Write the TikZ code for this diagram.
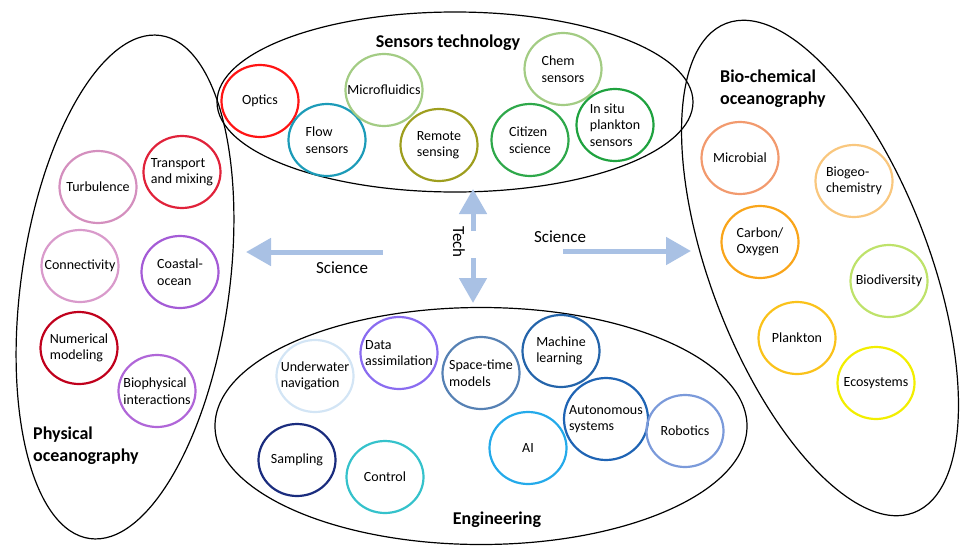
\documentclass[tikz,border=0pt]{standalone}
\usepackage{fontspec}
\setmainfont{Carlito}
\usetikzlibrary{shapes.geometric,arrows.meta}
\definecolor{optred}{HTML}{FF1414}
\definecolor{flowteal}{HTML}{1C9BB8}
\definecolor{microgreen}{HTML}{A3CC84}
\definecolor{remoteolive}{HTML}{9E9E1E}
\definecolor{citizengreen}{HTML}{2EA84A}
\definecolor{insitugreen}{HTML}{1FA23F}
\definecolor{turbpink}{HTML}{D48FBE}
\definecolor{transred}{HTML}{E0223A}
\definecolor{connpink}{HTML}{D99ACB}
\definecolor{coastpurple}{HTML}{A45BD6}
\definecolor{numred}{HTML}{C0001C}
\definecolor{biophypurple}{HTML}{B066D8}
\definecolor{microsalmon}{HTML}{F29A6E}
\definecolor{biogeoorange}{HTML}{F9C77E}
\definecolor{carbonorange}{HTML}{F9A51A}
\definecolor{biodivgreen}{HTML}{BEE26A}
\definecolor{planktonamber}{HTML}{FAC21A}
\definecolor{ecoyellow}{HTML}{F2EE00}
\definecolor{navblue}{HTML}{D3E5F5}
\definecolor{dataviolet}{HTML}{8A6CF0}
\definecolor{spaceslate}{HTML}{5681B4}
\definecolor{machineblue}{HTML}{2464AA}
\definecolor{autoblue}{HTML}{1F64B4}
\definecolor{robotblue}{HTML}{7B9ADA}
\definecolor{aiblue}{HTML}{24AAEA}
\definecolor{samplenavy}{HTML}{1A2C7E}
\definecolor{controlturq}{HTML}{35C2CB}
\definecolor{arrowblue}{HTML}{A9C1E4}
\tikzset{%
	every bubble/.style={
		ellipse,
		draw,
		line width=2.2pt,
		minimum width=77pt,
		minimum height=72pt,
		inner sep=0pt
	},
	bubble autonomous/.style={
		minimum width=84pt,
		minimum height=82pt
	},
	bubble text/.style={
		align=left,
		inner sep=0pt,
		font=\fontsize{14}{16.5}\selectfont
	},
	field/.style={
		ellipse,
		draw,
		line width=1.2pt,
		inner sep=0pt
	},
	field title/.style={
		align=left,
		inner sep=0pt,
		font=\bfseries\fontsize{18}{21.6}\selectfont
	},
	flow/.style={
		draw=arrowblue,
		line width=5pt,
		-{Triangle[width=27pt,length=25pt]}
	},
	flow label/.style={
		inner sep=0pt,
		font=\fontsize{17}{20}\selectfont
	},
}

\begin{document}
\begin{tikzpicture}[x=1pt, y=-1pt]
		\useasboundingbox (0,0) rectangle (965,546);
		
		\node [field, minimum width=476pt, minimum height=180pt] (sensors) at (455,102) {};
		\node [field, minimum width=208pt, minimum height=508pt, rotate=-8] (physical) at (125,287) {};
		\node [field, minimum width=218pt, minimum height=524pt, rotate=21] (biochem) at (820,268) {};
		\node [field, minimum width=532pt, minimum height=237pt] (engineering) at (481,426) {};
		
		\node [field title] (sensors-title) at (448,43) {Sensors technology};
		\node [field title, anchor=west] (physical-title) at (33,446) {Physical\\oceanography};
		\node [field title, anchor=west] (biochem-title) at (720,89) {Bio-chemical\\oceanography};
		\node [field title] (engineering-title) at (497,520) {Engineering};
		
		\foreach \n/\x/\y/\c/\t in {
			optics/260/101/optred/{Optics},
			flow/327/140/flowteal/{Flow\\sensors},
			microfluidics/384/90/microgreen/{Microfluidics},
			remote/439/145/remoteolive/{Remote\\sensing},
			chem/563/69/microgreen/{Chem\\sensors},
			citizen/530/140/citizengreen/{Citizen\\science},
			insitu/615/125/insitugreen/{In situ\\plankton\\sensors},
			turbulence/98/187/turbpink/{Turbulence},
			transport/182/172/transred/{Transport\\and mixing},
			connectivity/80/266/connpink/{Connectivity},
			coastal/180/272/coastpurple/{Coastal-\\ocean},
			numerical/79/348/numred/{Numerical\\modeling},
			biophysical/157/391/biophypurple/{Biophysical\\interactions},
			microbial/740/158/microsalmon/{Microbial},
			biogeo/854/181/biogeoorange/{Biogeo-\\chemistry},
			carbon/760/242/carbonorange/{Carbon/\\Oxygen},
			biodiversity/889/281/biodivgreen/{Biodiversity},
			plankton/797/338/planktonamber/{Plankton},
			ecosystems/876/383/ecoyellow/{Ecosystems},
			underwater/315/376/navblue/{Underwater\\navigation},
			data/399/353/dataviolet/{Data\\assimilation},
			spacetime/481/373/spaceslate/{Space-time\\models},
			machine/561/351/machineblue/{Machine\\learning},
			autonomous/606/419/autoblue/{Autonomous\\systems},
			robotics/685/431/robotblue/{Robotics},
			ai/528/448/aiblue/{AI},
			sampling/297/460/samplenavy/{Sampling},
			control/385/477/controlturq/{Control}}
		\node [every bubble, bubble \n/.try, draw=\c, label={[bubble text]center:\t}] (\n) at (\x,\y) {};
		
		\coordinate (hub-w) at (383,252);
		\coordinate (tip-w) at (246,252);
		\coordinate (hub-e) at (563,251);
		\coordinate (tip-e) at (691,251);
		\coordinate (hub-n) at (473,231);
		\coordinate (tip-n) at (473,189);
		\coordinate (hub-s) at (473,258);
		\coordinate (tip-s) at (473,303);
		
		\foreach \d in {w,e,n,s}
		\draw [flow] (hub-\d) -- (tip-\d);
		
		\node [flow label] (science-w) at (342,268) {Science};
		\node [flow label] (science-e) at (560,237) {Science};
		\node [flow label, rotate=-90] (tech) at (459,242) {Tech};
		
\end{tikzpicture}
\end{document}
